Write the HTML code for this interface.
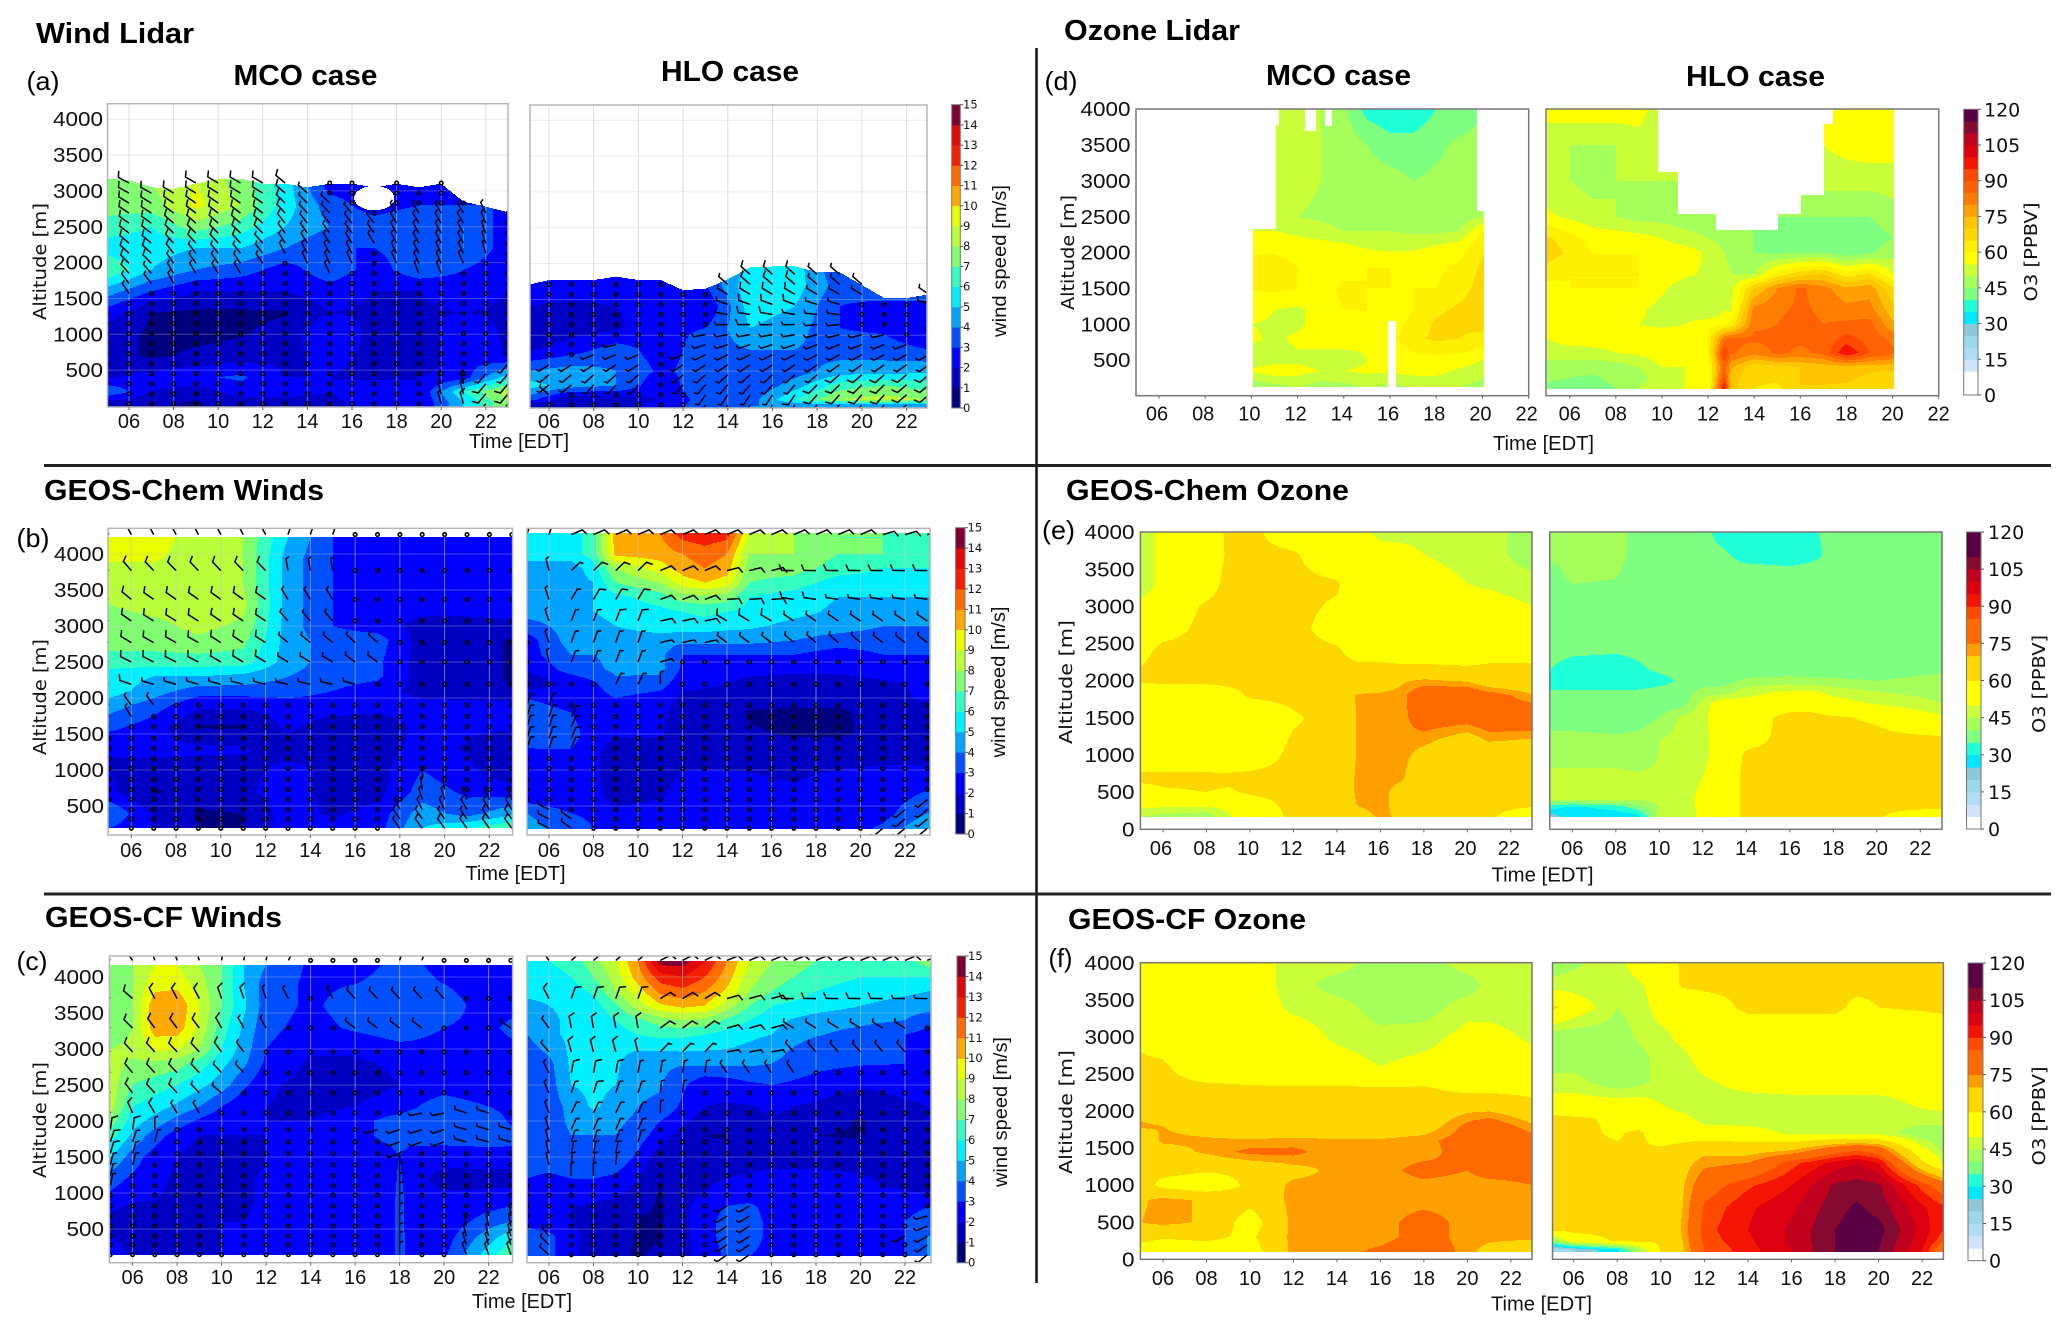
<!DOCTYPE html>
<html lang="en">
<head>
<meta charset="utf-8">
<title>Wind and ozone lidar versus model curtains</title>
<style>
html,body{margin:0;padding:0;background:#fff;}
svg{display:block;}
.title{font:bold 29px "Liberation Sans",sans-serif;fill:#000;}
.letter{font:26px "Liberation Sans",sans-serif;fill:#000;}
.tick{font:20px "Liberation Sans",sans-serif;fill:#111;}
.axis{font:20px "Liberation Sans",sans-serif;fill:#111;}
.alt{font:18px "DejaVu Sans",sans-serif;fill:#111;}
.ws{font:19px "Liberation Sans",sans-serif;fill:#111;}
.cbw{font:11.5px "DejaVu Sans",sans-serif;fill:#111;}
.cbo{font:19px "DejaVu Sans",sans-serif;fill:#111;}
</style>
</head>
<body>
<svg id="fig" xmlns="http://www.w3.org/2000/svg" width="2067" height="1332" viewBox="0 0 2067 1332">
<rect x="0" y="0" width="2067" height="1332" fill="#fff"/>
<g id="plots"></g>
<line x1="1036.5" y1="48" x2="1036.5" y2="1283" stroke="#111" stroke-width="2.5"/>
<line x1="44" y1="465.5" x2="2051" y2="465.5" stroke="#222" stroke-width="3"/>
<line x1="44" y1="894" x2="2051" y2="894" stroke="#222" stroke-width="3"/>
<text class="title" x="36" y="43" textLength="158" lengthAdjust="spacingAndGlyphs">Wind Lidar</text>
<text class="title" x="1064" y="40" textLength="176" lengthAdjust="spacingAndGlyphs">Ozone Lidar</text>
<text class="title" x="44" y="500" textLength="280" lengthAdjust="spacingAndGlyphs">GEOS-Chem Winds</text>
<text class="title" x="1066" y="500" textLength="283" lengthAdjust="spacingAndGlyphs">GEOS-Chem Ozone</text>
<text class="title" x="45" y="927" textLength="237" lengthAdjust="spacingAndGlyphs">GEOS-CF Winds</text>
<text class="title" x="1068" y="929" textLength="238" lengthAdjust="spacingAndGlyphs">GEOS-CF Ozone</text>
<text class="title" x="233.5" y="85" textLength="144" lengthAdjust="spacingAndGlyphs">MCO case</text>
<text class="title" x="661" y="81" textLength="138" lengthAdjust="spacingAndGlyphs">HLO case</text>
<text class="title" x="1266" y="85" textLength="145" lengthAdjust="spacingAndGlyphs">MCO case</text>
<text class="title" x="1686" y="86" textLength="139" lengthAdjust="spacingAndGlyphs">HLO case</text>
<text class="letter" x="26.5" y="90" textLength="33" lengthAdjust="spacingAndGlyphs">(a)</text>
<text class="letter" x="16.5" y="547" textLength="33" lengthAdjust="spacingAndGlyphs">(b)</text>
<text class="letter" x="16.5" y="970" textLength="31" lengthAdjust="spacingAndGlyphs">(c)</text>
<text class="letter" x="1044.5" y="90" textLength="33" lengthAdjust="spacingAndGlyphs">(d)</text>
<text class="letter" x="1042" y="539" textLength="33" lengthAdjust="spacingAndGlyphs">(e)</text>
<text class="letter" x="1048.5" y="967" textLength="24" lengthAdjust="spacingAndGlyphs">(f)</text>
<text class="axis" x="469" y="448" textLength="100" lengthAdjust="spacingAndGlyphs">Time [EDT]</text>
<text class="axis" x="465.5" y="880" textLength="100" lengthAdjust="spacingAndGlyphs">Time [EDT]</text>
<text class="axis" x="472" y="1308" textLength="100" lengthAdjust="spacingAndGlyphs">Time [EDT]</text>
<text class="axis" x="1493" y="450" textLength="101" lengthAdjust="spacingAndGlyphs">Time [EDT]</text>
<text class="axis" x="1491.5" y="881.5" textLength="102" lengthAdjust="spacingAndGlyphs">Time [EDT]</text>
<text class="axis" x="1491" y="1310.5" textLength="101" lengthAdjust="spacingAndGlyphs">Time [EDT]</text>
<text class="alt" text-anchor="middle" transform="translate(46 261.5) rotate(-90)" textLength="117" lengthAdjust="spacingAndGlyphs">Altitude [m]</text>
<text class="alt" text-anchor="middle" transform="translate(46 697) rotate(-90)" textLength="116" lengthAdjust="spacingAndGlyphs">Altitude [m]</text>
<text class="alt" text-anchor="middle" transform="translate(46 1120) rotate(-90)" textLength="116" lengthAdjust="spacingAndGlyphs">Altitude [m]</text>
<text class="alt" text-anchor="middle" transform="translate(1074 252.5) rotate(-90)" textLength="115" lengthAdjust="spacingAndGlyphs">Altitude [m]</text>
<text class="alt" text-anchor="middle" transform="translate(1072 682) rotate(-90)" textLength="124" lengthAdjust="spacingAndGlyphs">Altitude [m]</text>
<text class="alt" text-anchor="middle" transform="translate(1072 1112) rotate(-90)" textLength="124" lengthAdjust="spacingAndGlyphs">Altitude [m]</text>
<text class="ws" text-anchor="middle" transform="translate(1006 261) rotate(-90)" textLength="152" lengthAdjust="spacingAndGlyphs">wind speed [m/s]</text>
<text class="ws" text-anchor="middle" transform="translate(1005 682) rotate(-90)" textLength="151" lengthAdjust="spacingAndGlyphs">wind speed [m/s]</text>
<text class="ws" text-anchor="middle" transform="translate(1007 1112) rotate(-90)" textLength="150" lengthAdjust="spacingAndGlyphs">wind speed [m/s]</text>
<text class="alt" text-anchor="middle" transform="translate(2037 252) rotate(-90)" textLength="99" lengthAdjust="spacingAndGlyphs">O3 [PPBV]</text>
<text class="alt" text-anchor="middle" transform="translate(2045 684) rotate(-90)" textLength="98" lengthAdjust="spacingAndGlyphs">O3 [PPBV]</text>
<text class="alt" text-anchor="middle" transform="translate(2045 1116) rotate(-90)" textLength="99" lengthAdjust="spacingAndGlyphs">O3 [PPBV]</text>
</svg>
<script>
/* ---------- shared tick labels and colour scales ---------- */
const hourTicks = [6,8,10,12,14,16,18,20,22];
const altTicks = [500,1000,1500,2000,2500,3000,3500,4000];
const altTicksZero = [0,500,1000,1500,2000,2500,3000,3500,4000];
const windLevels = [0,1,2,3,4,5,6,7,8,9,10,11,12,13,14,15];
const windColors = ['#00007f','#0000c4','#0000ff','#0050ff','#00a4ff','#00f0ff','#30ffc0','#7fff70','#b8ff3a','#e8ff00','#ffa800','#ff6a00','#f42000','#e00808','#7f0030'];
const windCbTicks = [0,1,2,3,4,5,6,7,8,9,10,11,12,13,14,15];
const ozoneLevels = [0,10,15,20,25,30,35,40,45,50,55,60,65,70,75,80,85,90,95,100,105,110,115,120];
const ozoneColors = ['#ffffff','#cfe3fb','#b0dcf5','#9bd8ea','#8cc8d8','#00e8ff','#1fffd8','#7fff7f','#a5ff5a','#c8ff38','#ffff00','#ffef00','#ffd700','#ffc400','#ff9f00','#ff7d00','#ff6200','#ff4a00','#f51400','#dd0010','#c0001c','#860a30','#5c0044'];
const modelLevels = [0,5,10,15,20,25,30,35,40,45,50,55,60,65,70,75,80,85,90,95,100,105,110,120];
const modelColors = ['#ffffff','#cfe3fb','#b0dcf5','#9bd8ea','#8cc8d8','#00e8ff','#1fffd8','#7fff7f','#a5ff5a','#c8ff38','#ffff00','#ffff00','#ffd700','#ffd700','#ff9f00','#ff6a00','#ff6a00','#ff4a00','#f51400','#dd0010','#c0001c','#860a30','#5c0044'];
const ozoneCbTicks = [0,15,30,45,60,75,90,105,120];

/* ---------- (a) wind lidar ---------- */
const topHours = [5,6,7,8,9,10,11,12,13,14,15,16,17,18,19,20,21,22,23];
const hoursA1 = [5,7,9,11,13,15,17,19,21,23];
const altsA1 = [3100,2800,2500,2200,1900,1600,1300,1000,700,400,200,50];
const speedA1 = [
[7.5,8,9,7.5,5.5,2.5,2.5,2.5,2.5,3],
[7.5,7.5,9.3,8,5.5,3.5,2.5,3,3,3],
[6.5,6,7.5,6.5,5,4,3.5,4,4,2.5],
[5.5,5.5,5,5,4,3,3,3.5,4,2.5],
[7,5,4,3.5,2.5,3.7,2.5,3.7,3,2.2],
[4.5,3,2,2,2,2.5,2,2,2.5,2],
[2.5,1,0.8,0.8,0.9,2,1.8,1.8,2,1.8],
[1.5,0.8,0.7,0.9,1.4,3,1.6,1.2,3,1.7],
[1.5,0.8,1.2,1.5,1.8,2.2,1.8,1,2.8,1.9],
[1.8,2.5,2.8,3.2,2,2,1.8,2,2.5,5.5],
[4,2,1.5,2.5,2.5,2,3,2,6,8.5],
[1.5,1.2,0.9,1.5,1.5,1.7,2.5,2,5,8]];
const topA1 = [3170,3150,3050,3030,3100,3170,3170,3100,3100,3050,3100,3100,3050,3100,3050,3100,2850,2780,2700];
const holesA1 = [[17,2900,0.9,170]];
const hoursA2 = [5,7,9,11,13,15,17,19,21,23];
const altsA2 = [2000,1700,1400,1100,800,500,300,100,20];
const speedA2 = [
[3,2.8,2.6,2.5,3,5,5.5,3,4,3],
[2.5,2.5,2.5,3,3,5.8,5.5,3.5,4.3,3],
[2,1.8,2,2.3,2,5.5,5,3,2.5,3],
[1,1.5,1.8,2.8,3,5,4.5,3,2.8,1.8],
[1.8,2.5,3.5,2.5,3.5,4,4,3.5,3.5,3],
[4,4.5,4,2.8,3.5,3.3,3.5,4.5,4.5,4.8],
[5.5,4.5,4,2.2,4,3,4.5,6.5,7,6.5],
[3.5,1,1.5,2,3.5,3.5,6,8,8.5,8],
[1,1,1.5,2.5,3.5,4,4,4,4,4]];
const topA2 = [1700,1770,1770,1770,1820,1770,1770,1630,1650,1780,1950,1960,1960,1880,1880,1700,1520,1520,1570];

/* ---------- (b) GEOS-Chem winds ---------- */
const hoursB1 = [5,7,9,11,13,15,17,19,21,23];
const altsB1 = [4230,3930,3600,3300,3000,2800,2500,2300,2100,1900,1600,1300,1000,700,400,190];
const speedB1 = [
[9.5,9.5,8.5,8,5,3,2.5,2.5,2.5,2.5],
[9.1,9.1,8.5,8,4.5,3,2.5,2.5,2.5,2.5],
[8.3,8.4,8.5,8,4.5,3,2.5,2.5,2.5,2.5],
[8,8.4,8.5,8.3,4.5,3,2.5,2.5,2.5,2.5],
[7.5,7.7,8.3,7.8,4.5,3,2.5,1.6,1.6,1.8],
[7.5,7.5,7.8,7.3,4.5,3.5,3.5,1.5,1.4,0.9],
[6.5,6.5,6.5,6.5,4.5,3.5,3.2,1.5,1.4,0.9],
[5.5,5,5,4.7,4,3.5,3.2,1.5,1.4,0.9],
[5.5,4.5,3.5,3.5,3.5,3,2.5,1.6,1.5,1],
[4.5,3.5,2.2,2.2,2.5,2.5,2.3,2.3,2.3,2.3],
[3.3,2.5,0.9,0.9,2.2,1.5,1.5,2.2,2.2,2.2],
[2,2.3,2.2,2.1,1.5,1.6,1.6,2.3,1.9,1],
[2,1.6,1.6,1.7,2.3,1.8,1.6,3,2.3,1.1],
[2.2,0.9,1.3,1.8,2.5,1.6,1.6,3.5,2.8,2.5],
[4,1.8,0.9,1,2.5,1.8,2.4,4.5,3.5,4.7],
[3,2,1,1,2.5,2.5,2.6,5,6,7]];
const hoursB2 = [5,7,8,9,11,12,13,14,15,17,19,21,23];
const altsB2 = [4290,4000,3800,3600,3400,3200,3000,2800,2600,2400,2200,2000,1800,1500,1200,900,600,400,180];
const speedB2 = [
[5.5,5.5,6.5,10.5,11,12.5,12.8,12.5,9,8,7,7,7],
[5.5,5.5,6.5,10.3,10.5,11,11.5,11,8,8,7,7,6.5],
[4.5,4.5,5.5,8,9.5,10.5,11,10.5,7.5,7.5,6.5,6,6],
[4.5,4.5,5,7,8,9.5,10,9.5,7,6.5,5.5,5.5,5.5],
[4.5,4.5,5,5.7,6.5,7.5,7.7,7.5,6,5.5,5,5,5],
[4.5,4.5,5,5.5,5.7,6,6.3,6,5.7,5.3,4.8,4.7,4.5],
[3.5,4.5,4.5,5,5.5,5.5,5.5,5.3,5.2,4.7,4.5,4,4],
[2.5,4.5,4.5,4.5,4.5,4.3,4.3,4.3,4.3,4,3.5,3.5,3],
[2.5,4,4,4.2,4.3,3,3,3,3,3,2.5,3,3],
[2,3.5,3.8,4.2,4.3,2.8,2.7,2.7,2.5,2.3,2.3,2.6,2.8],
[1.3,2.2,2.8,3.8,3.5,2.3,2.2,2,1.5,1.4,1.4,1.8,2.2],
[3,2.5,2.5,3,2.5,1.8,1.6,1.6,1.4,1.4,1.4,1.6,2.2],
[3.5,3,2.3,2,2.2,1.5,1.6,1.5,0.9,0.8,0.8,1.4,1.5],
[4,3.5,2.3,2.1,2.1,1.5,1.6,1.5,1.1,0.9,0.9,1.2,1.5],
[2.5,2.8,2.2,1.5,1.5,1.5,1.6,1.6,1.6,1.6,1.6,1.6,1.6],
[2.5,2.2,2.2,1.5,1.5,2.2,2.2,2.2,2.1,1.9,2.2,2.5,2.5],
[2.6,2.2,2.3,1.7,2,2.3,2.3,2.3,2.3,2.3,2.3,2.5,3.3],
[4,3,2.8,2.3,2.3,2.4,2.4,2.4,2.4,2.4,2.4,2.6,4],
[4.5,3.5,3,2,2.3,2.4,2.4,2.4,2.4,2.4,2.4,3.2,5]];

/* ---------- (c) GEOS-CF winds ---------- */
const hoursC1 = [5,6,7,8,9,10,11,12,14,16,17.5,18,18.5,20,22,23];
const altsC1 = [4170,3900,3600,3300,3000,2800,2500,2200,2000,1800,1500,1200,900,600,400,143];
const speedC1 = [
[7.5,8,9,9,8,7,5,4,2.8,2.6,3.1,3.3,3.2,2.7,2.6,2.6],
[7.5,8,9.6,9.7,8.5,7,5,3.5,2.8,3,3.3,3.4,3.3,3,2.5,2.5],
[7,8,10.7,10.9,9,7,5.2,3.5,2.8,3.5,3.6,3.7,3.6,3.5,2.5,2.5],
[7,8,10.6,10.6,8.8,6.5,4.8,3.3,2.6,3.2,3.5,3.6,3.5,3,2.7,3.3],
[8,8.3,9.2,9.1,8,6,4.5,3,2.2,2.2,2.6,2.7,2.7,2.6,2.6,2.7],
[8.5,7.8,7.8,7.5,6.5,5.3,4.2,2.8,1.8,1.8,2.1,2.2,2.3,2.6,2,2],
[8.5,7,6.5,6,5.3,4.5,3.2,2.2,1.6,1.6,1.9,2,2.1,2.4,2,2],
[8.5,6,5.5,4.8,4,3,2.2,2,1.7,2,2.4,2.5,2.8,3.7,3,2.6],
[7.5,5.5,4.6,3.6,2.8,2.2,2,2,2,2.6,3.3,3.5,3.6,3.8,3.8,2.8],
[6.5,4.8,3.5,2.5,2,2,2,2,2.2,2.6,3.3,3.5,3.5,3.6,3.6,3.5],
[5,3.5,2.5,2,1.6,1.2,1.2,2,2.5,2.5,2.6,3,2.5,2.3,2.5,2.5],
[3.5,2.8,2.3,1.8,1.5,1.5,1.8,2.2,3,2.5,2.4,3.2,2.3,1.7,1.6,1.6],
[2.6,2.1,2,1.8,2,1.9,1.8,2.2,2.8,2.4,2.4,3.4,2.4,2.2,2.4,2.6],
[1.6,0.9,1.6,1.7,2,2,2,2.2,2.7,2.4,2.4,3.4,2.4,2.3,3.5,4],
[2,1.5,1.7,1.8,1.9,2,2,2.2,2.6,2.4,2.4,3.5,2.4,2.5,4.5,5.5],
[2.6,1.8,1.8,1.8,1.9,2,2,2.2,2.6,2.5,2.4,3.4,2.5,2.8,5.5,7]];
const hoursC2 = [5,6,7,8,9,10,11,12,13,14,15,16,18,20,22,23];
const altsC2 = [4218,4000,3800,3600,3400,3200,3000,2800,2500,2200,2000,1800,1500,1200,1000,800,600,400,120];
const speedC2 = [
[5.5,6,6.5,7.5,9,11,14.5,14.5,13,11,9,8,7,6.5,6.5,7.5],
[5.5,5.5,6,7,8.5,10.5,12.5,13,12,10.5,8.5,7.5,6.5,6,6,6],
[5.2,5.2,5.5,6.2,8,9.5,11.3,11.7,11,9.8,8,7,6,5.5,5.2,5],
[4.8,5,5.2,5.5,6.8,8.5,9.8,10.3,10,8.5,7,6,5.5,5,4.6,4.5],
[4.5,4.8,5.2,5.3,6,6.8,7.5,8,7.7,6.8,6,5.3,4.5,4.3,4,3.3],
[4,4.8,5.2,5.3,5.5,6,6.3,6.2,6,5.5,5.2,5,4.1,3.6,3,2.7],
[3.5,4.3,5.2,5.3,5.3,5.1,5.1,5.2,5.1,5,4.8,4.5,3.3,3.5,3,2.6],
[3,3.7,5.2,5.3,5.2,4.2,4.2,4.1,4.2,4.2,4.2,4,3.3,3.1,3,2.8],
[3,3.5,5,5.3,5,4.2,4.1,3.2,2.2,2.4,2.8,3,2.6,2.1,2.5,2.5],
[3.2,3.5,4.3,5.2,4.5,4,3.8,2.8,2,1.9,1.9,2.2,1.8,1.2,1.7,2],
[3.5,3.5,4.2,4.3,4.2,3.8,3,2.3,1.5,1.4,1.7,1.9,1.5,0.9,1.7,2],
[3.5,3.5,4,4,4,3.5,2.5,1.5,1,0.9,1.5,1.6,1,0.9,1.8,1.8],
[3.5,3.5,3.8,3.9,3.7,2.8,1.3,1,1.2,1.4,1.5,1.6,1.6,1.4,1.2,1.1],
[3,2.8,3,3,2.8,2,1,1.8,1.9,2,2.2,2.3,2.3,2.2,1.5,1.4],
[2.2,2.5,2.3,2.2,2.2,1.6,0.9,1.8,2,2.2,2.3,2.4,2.3,2.3,2.1,2],
[2.3,2.2,2,1.9,1.7,1.2,0.9,1.8,2.4,3.1,3.3,2.5,2.3,2.3,2.7,3],
[2.7,2.2,2,1.7,1.6,0.9,0.9,1.8,2.5,3.5,3.6,2.6,2.4,2.4,3,3.5],
[3.5,3.3,2.2,1.7,1.4,0.9,0.9,1.7,2.5,3.5,3.6,2.6,2.4,2.5,3,4],
[3,3.3,2.2,1.6,1.2,0.9,1.2,1.7,2.3,3.2,3,2.6,2.4,2.4,2.9,4]];

/* ---------- wind barb levels and directions (degrees clockwise from up) ---------- */
const barbHours = [5,6,7,8,9,10,11,12,13,14,15,16,17,18,19,20,21,22,23];
const barbAltsA = [30,170,310,450,590,730,870,1010,1150,1290,1430,1570,1710,1850,1990,2130,2270,2410,2550,2690,2830,2970,3110,3250];
const barbAltsB = [190,320,450,590,730,870,1020,1160,1300,1440,1600,1740,1900,2190,2500,2770,3070,3370,3770,4270];
const barbAltsC = [143,280,400,540,680,820,970,1100,1240,1390,1550,1710,1880,2110,2390,2670,2960,3290,3700,4230];
const dirHoursA1 = [5,10,15,20,23];
const dirAltsA1 = [3000,2000,1000,200];
const dirA1 = [[-62,-60,-50,-35,-30],[-45,-35,-25,-25,-15],[-19,-10,-130,-10,-10],[-28,-28,-10,-16,-140]];
const dirHoursA2 = [5,10,15,20,23];
const dirAltsA2 = [1700,1100,500,100];
const dirA2 = [[36,28,-49,-49,-43],[-85,-85,-95,-100,-100],[-130,-130,-130,-130,-130],[-50,-150,-150,-140,-130]];
const dirHoursB1 = [5,8,11,14,18,23];
const dirAltsB1 = [4200,3500,2500,2100,1900,1000,300];
const dirB1 = [[-28,-28,-28,19,19,10],[-49,-54,-54,-28,-28,-19],[-63,-63,-59,-59,-54,-49],[-74,-77,-80,-82,-80,-67],[-36,-36,-82,-89,-90,-90],[-10,0,0,10,10,-10],[-49,-10,0,0,-36,-36]];
const dirHoursB2 = [5,9,12,15,18,23];
const dirAltsB2 = [4270,3700,3300,3000,2600,2000,1000,300];
const dirB2 = [[19,67,67,67,67,74],[-19,43,67,77,-89,-89],[-19,28,71,88,-80,-80],[-19,19,80,-59,-49,-49],[-19,19,74,-49,-49,-54],[19,28,0,0,-63,-67],[19,19,0,0,-130,-130],[-63,-54,0,0,-130,-130]];
const dirHoursC1 = [5,8,11,14,18,23];
const dirAltsC1 = [4200,3700,3000,2200,1800,1000,200];
const dirC1 = [[-36,-19,10,28,19,0],[-49,-28,-19,-28,-43,-49],[-43,-43,-36,-36,-59,-59],[-36,-43,-54,-49,-100,-70],[19,10,0,-130,-110,-75],[10,43,0,0,0,0],[-54,0,0,0,0,-19]];
const dirHoursC2 = [5,9,12,15,18,23];
const dirAltsC2 = [4200,3700,3300,3000,2700,2000,1000,200];
const dirC2 = [[-36,49,63,67,67,67],[-28,19,59,74,-89,-89],[-36,-10,54,74,-59,-59],[-43,-19,49,80,-43,-43],[-28,10,10,-36,-36,-28],[-19,28,0,0,0,0],[-10,-10,0,-120,-100,-90],[-49,0,0,-125,-70,-130]];

/* ---------- (d) ozone lidar ---------- */
const hoursD1 = [10,11,12,13,14,15,16,17,18,19,20];
const altsD1 = [4000,3500,3000,2500,2300,2100,1800,1500,1200,1000,800,500,350,120];
const ozoneD1 = [
[55,55,52,50,46,38,36,36,40,42,45],
[55,55,54,50,48,45,42,42,44,46,46],
[52,53,52,50,48,48,47,45,46,46,47],
[52,52,50,49,48,49,47,46,46,47,50],
[55,55,54,52,50,50,50,49,49,50,60],
[58,58,57,57,56,54,53,54,55,57,64],
[62,63,60,58,58,60,60,58,59,61,66],
[60,61,60,58,61,60,60,60,60,63,67],
[58,55,54,57,60,60,58,60,64,66,68],
[55,54,54,57,60,58,58,61,66,66,67],
[56,54,56,58,58,56,58,64,66,65,63],
[52,53,54,52,52,55,55,58,58,58,55],
[56,58,57,55,55,56,56,57,57,54,52],
[45,48,50,47,48,50,48,50,50,50,48]];
const coverageD1 = [[10.05,11.05,120,2330],[11.05,11.2,120,3780],[11.2,12.3,120,4000],[12.3,12.8,120,3700],[12.8,13.2,120,4000],[13.2,13.5,120,3770],[13.5,15.9,120,4000],[15.9,16.25,1050,4000],[16.25,19.75,120,4000],[19.75,20.05,120,2580]];
const hoursD2 = [5,6,7,8,9,10,11,12,12.7,13,14,15,16,17,18,19,20];
const altsD2 = [4000,3500,3000,2500,2200,2000,1700,1500,1200,1000,800,600,400,250,120];
const ozoneD2 = [
[58,58,58,58,58,50,50,50,50,50,50,50,50,56,58,60,60],
[50,50,50,50,52,50,50,50,50,50,50,50,50,55,57,58,58],
[52,50,48,50,50,50,50,50,50,50,50,50,50,52,52,52,52],
[56,54,52,50,48,48,47,47,47,45,45,45,45,45,45,45,48],
[66,62,58,58,57,55,52,50,48,47,45,42,42,40,42,42,45],
[68,64,60,60,60,58,58,54,50,47,45,44,45,45,42,44,48],
[62,60,60,60,60,58,56,54,53,50,50,62,68,70,62,66,55],
[58,60,60,60,60,56,52,52,54,53,70,80,86,82,76,78,66],
[58,58,58,58,56,53,52,50,55,54,82,84,86,84,82,82,72],
[58,58,58,57,55,54,55,58,58,62,84,85,87,85,86,87,76],
[55,58,58,58,58,58,58,60,84,86,86,86,86,86,92,88,84],
[52,52,53,55,56,58,58,60,95,86,82,86,84,86,100,90,86],
[48,48,47,47,50,55,55,57,88,76,66,68,70,72,72,72,72],
[46,45,44,47,48,53,55,56,92,72,66,66,70,75,72,68,66],
[44,42,42,45,50,53,55,56,100,72,65,64,70,68,68,66,66]];
const coverageD2 = [[5,9.85,100,4000],[9.85,10.7,100,3130],[10.7,12.35,100,2540],[12.35,15.05,100,2320],[15.05,16.05,100,2540],[16.05,17.03,100,2800],[17.03,17.4,100,3800],[17.4,20.05,100,4000]];

/* ---------- (e) GEOS-Chem ozone ---------- */
const hoursE1 = [5,6,8,9,10,12,14,15,16,17,18,20,21,23];
const altsE1 = [4000,3700,3300,3000,2700,2400,2200,2000,1800,1500,1200,1000,700,500,350,170];
const ozoneE1 = [
[45,53,53,62,62,55,53,53,48,48,48,48,48,41],
[45,53,55,61,62,61,54,53,53,52,50,48,47,42],
[45,53,57,62,62,62,61,54,53,53,53,50,49,47],
[53,55,61,62,62,62,59,55,53,53,53,53,53,50],
[55,57,62,62,62,62,57,55,53,53,53,53,53,53],
[58,62,62,62,62,62,61,57,54,53,53,53,55,55],
[60,62,62,62,62,62,62,61,62,61,61,60,61,61],
[61,62,62,62,62,62,62,62,62,69,71,69,63,61],
[53,53,54,57,61,62,65,71,72,73,83,83,79,71],
[53,53,53,53,53,59,63,71,72,73,80,79,82,83],
[53,53,53,53,53,61,62,71,72,73,72,65,71,69],
[53,53,53,52,55,62,62,71,72,72,67,62,62,62],
[62,62,62,62,62,62,62,72,72,71,62,62,62,62],
[57,59,60,59,61,62,62,72,72,67,62,62,62,62],
[53,53,53,53,57,62,62,71,72,67,62,62,62,62],
[45,43,41,49,53,62,62,67,71,69,62,62,61,55]];
const hoursE2 = [5,6,8,9,10,11,12,13,14,16,17,18,20,23];
const altsE2 = [4000,3700,3500,3000,2500,2150,2000,1850,1700,1500,1200,1000,700,400,300,170];
const ozoneE2 = [
[42,42,42,38,37,37,37,32,31,31,34,37,37,37],
[42,42,42,38,37,37,37,36,32,31,33,37,37,37],
[38,42,41,37,37,37,37,37,37,36,37,37,37,37],
[37,37,37,37,37,37,37,37,37,37,37,37,37,37],
[37,37,37,37,37,37,37,37,37,37,37,37,37,37],
[35,33,32,34,36,37,37,37,37,37,37,37,37,39],
[31,30,31,31,33,36,37,38,41,42,41,41,40,42],
[36,36,36,36,37,37,42,42,48,51,51,48,45,43],
[37,37,37,37,37,37,47,55,52,55,55,53,49,45],
[37,37,37,37,40,46,48,57,55,63,63,61,59,51],
[42,42,41,42,45,47,48,55,58,62,62,62,62,62],
[42,42,42,42,45,47,48,55,61,62,62,62,62,62],
[47,47,47,46,46,47,50,55,62,62,62,62,62,62],
[45,46,47,45,47,47,52,55,62,62,62,62,62,62],
[32,29,32,38,45,46,52,55,62,62,62,62,62,62],
[22,28,26,27,45,45,52,55,62,62,62,61,61,51]];

/* ---------- (f) GEOS-CF ozone ---------- */
const hoursF1 = [5,6,8,10,12,14,16,18,20,21,23];
const altsF1 = [4000,3700,3400,3000,2600,2300,2050,1800,1600,1450,1200,1000,800,500,300,100];
const ozoneF1 = [
[53,53,53,53,48,48,42,42,48,48,48],
[53,53,53,53,48,42,41,41,42,47,48],
[55,52,53,53,49,48,42,42,48,48,48],
[59,57,53,53,53,49,47,48,52,52,49],
[61,61,55,55,53,53,50,52,53,53,53],
[61,62,62,61,61,61,61,61,58,58,58],
[67,62,62,62,62,62,62,62,67,67,62],
[71,70,67,62,62,62,63,65,77,81,71],
[65,71,71,71,72,71,71,73,79,83,80],
[61,67,71,77,77,71,72,72,79,83,82],
[61,63,61,62,67,72,72,78,75,79,79],
[65,57,53,62,72,72,72,73,72,72,75],
[69,72,69,63,72,72,72,72,72,72,72],
[70,72,69,55,72,72,72,79,72,72,72],
[63,61,62,58,72,72,72,79,72,72,72],
[55,53,55,55,72,72,77,83,72,67,61]];
const hoursF2 = [5,6,8,9,10,11,12,14,16,18,19,20,22,23];
const altsF2 = [4000,3700,3400,3000,2700,2400,2100,1900,1700,1500,1300,1000,700,400,250,130];
const ozoneF2 = [
[42,44,48,54,56,61,62,62,62,62,62,62,62,62],
[47,47,46,49,54,61,62,62,62,62,62,62,62,62],
[62,55,45,47,53,53,55,62,62,62,58,60,61,62],
[41,41,42,46,48,52,53,53,53,53,53,53,53,53],
[42,42,42,43,47,48,53,53,53,53,53,53,53,53],
[47,47,41,43,47,47,49,53,53,53,53,53,53,53],
[53,53,53,53,50,47,47,47,48,48,48,48,51,52],
[62,61,59,53,53,52,48,47,47,47,47,47,48,48],
[62,62,59,62,53,55,53,53,49,48,48,48,41,41],
[62,61,61,61,61,63,67,65,67,78,82,78,51,43],
[62,62,62,62,61,67,73,75,88,97,100,95,62,49],
[62,62,62,62,61,69,81,89,95,106,107,106,88,80],
[62,62,62,62,61,70,86,94,99,108,111,108,96,91],
[62,62,62,62,61,71,88,95,101,110,113,112,98,90],
[40,55,61,62,61,70,87,94,101,110,113,111,97,86],
[15,20,29,43,61,69,85,93,100,110,113,110,95,78]];

/* ---------- rendering ---------- */
const NS = 'http://www.w3.org/2000/svg';
const plots = document.getElementById('plots');
function make(tag, parent){ const e = document.createElementNS(NS, tag); parent.appendChild(e); return e; }
function locate(arr, v, desc){
  const n = arr.length;
  if(n===1) return [0,0,0];
  if(desc){
    if(v>=arr[0]) return [0,0,0];
    if(v<=arr[n-1]) return [n-1,n-1,0];
    for(let i=0;i<n-1;i++){ if(v<=arr[i]&&v>=arr[i+1]) return [i,i+1,(arr[i]-v)/(arr[i]-arr[i+1])]; }
  } else {
    if(v<=arr[0]) return [0,0,0];
    if(v>=arr[n-1]) return [n-1,n-1,0];
    for(let i=0;i<n-1;i++){ if(v>=arr[i]&&v<=arr[i+1]) return [i,i+1,(v-arr[i])/(arr[i+1]-arr[i])]; }
  }
  return [0,0,0];
}
function sample(p,h,a){
  const c = locate(p.hours,h,false), r = locate(p.alts,a,true), g = p.values;
  const top = g[r[0]][c[0]]*(1-c[2]) + g[r[0]][c[1]]*c[2];
  const bot = g[r[1]][c[0]]*(1-c[2]) + g[r[1]][c[1]]*c[2];
  return top*(1-r[2]) + bot*r[2];
}
function lerp1(xs,ys,x){ const c = locate(xs,x,false); return ys[c[0]]*(1-c[2]) + ys[c[1]]*c[2]; }
function inside(p,h,a){
  if(p.top && a>lerp1(topHours,p.top,h)) return false;
  if(p.holes){ for(const o of p.holes){ const dx=(h-o[0])/o[2], dy=(a-o[1])/o[3]; if(dx*dx+dy*dy<1) return false; } }
  if(p.coverage){ let ok=false; for(const s of p.coverage){ if(h>=s[0]&&h<s[1]&&a>=s[2]&&a<=s[3]) ok=true; } if(!ok) return false; }
  if(p.minAlt!==undefined && a<p.minAlt) return false;
  if(p.maxAlt!==undefined && a>p.maxAlt) return false;
  return true;
}
function bandOf(levels,v){ for(let i=0;i<levels.length-1;i++){ if(v<levels[i+1]) return i; } return levels.length-2; }
function addText(parent,cls,x,y,str,anchor,len){
  const t = make('text',parent);
  t.setAttribute('class',cls); t.setAttribute('x',x); t.setAttribute('y',y);
  if(anchor) t.setAttribute('text-anchor',anchor);
  if(len){ t.setAttribute('textLength',len); t.setAttribute('lengthAdjust','spacingAndGlyphs'); }
  t.textContent = str;
  return t;
}
function dirAt(p,h,a){
  const c = locate(p.dirHours,h,false), r = locate(p.dirAlts,a,true);
  const ci = c[2]<0.5?c[0]:c[1], ri = r[2]<0.5?r[0]:r[1];
  const d0 = p.dirs[r[0]][ci], d1 = p.dirs[r[1]][ci];
  return Math.abs(d0-d1)>60 ? p.dirs[ri][ci] : d0*(1-r[2])+d1*r[2];
}
function drawPanel(p){
  const xs = h => p.x06 + (h-6)*p.hw;
  const ys = a => p.yZero - a*p.k;
  const hOf = x => 6 + (x-p.x06)/p.hw;
  const aOf = y => (p.yZero-y)/p.k;
  const g = make('g',plots);
  
  
  const clipId = 'clip-'+p.name;
  const defs = make('defs',g);
  const cp = make('clipPath',defs); cp.setAttribute('id',clipId);
  const cr = make('rect',cp);
  cr.setAttribute('x',p.x0); cr.setAttribute('y',p.y0); cr.setAttribute('width',p.x1-p.x0); cr.setAttribute('height',p.y1-p.y0);
  const n = p.colors.length, d = new Array(n).fill('');
  const X0=Math.round(p.x0), X1=Math.round(p.x1), Y0=Math.round(p.y0), Y1=Math.round(p.y1);
  for(let y=Y0;y<Y1;y++){
    const a=aOf(y+0.5); let cur=-2, start=X0;
    for(let x=X0;x<=X1;x++){
      let b=-1;
      if(x<X1){ const h=hOf(x+0.5); if(inside(p,h,a)) b=bandOf(p.levels,sample(p,h,a)); } else b=-3;
      if(b!==cur){ if(cur>=0) d[cur]+='M'+start+' '+y+'h'+(x-start)+'v1h'+(start-x)+'z'; cur=b; start=x; }
    }
  }
  for(let i=0;i<n;i++){
    if(!d[i]) continue;
    const path = make('path',g);
    
    
    path.setAttribute('d',d[i]);
    path.setAttribute('fill',p.colors[i]);
    path.setAttribute('shape-rendering','crispEdges');
  }
  if(p.grid){
    for(const t of hourTicks){
      const l = make('line',g);
      
      
      l.setAttribute('x1',xs(t)); l.setAttribute('x2',xs(t)); l.setAttribute('y1',p.y0); l.setAttribute('y2',p.y1);
      l.setAttribute('stroke','#c4c4c4'); l.setAttribute('stroke-opacity','0.6');
    }
    for(const t of altTicks){
      const l = make('line',g);
      
      
      l.setAttribute('x1',p.x0); l.setAttribute('x2',p.x1); l.setAttribute('y1',ys(t)); l.setAttribute('y2',ys(t));
      l.setAttribute('stroke','#c4c4c4'); l.setAttribute('stroke-opacity','0.35');
    }
  }
  if(p.barbAlts){
    for(const alt of p.barbAlts){
      let dStr='';
      for(const h of barbHours){
        if(p.barbInside && !inside(p,h,Math.max(alt-10,0))) continue;
        const s = sample(p,h,alt), px=xs(h), py=ys(alt);
        if(s<3){
          dStr+='M'+(px-1.8).toFixed(1)+' '+py.toFixed(1)+'a1.8 1.8 0 1 0 3.6 0a1.8 1.8 0 1 0 -3.6 0z';
        } else {
          const t=dirAt(p,h,alt)*Math.PI/180, L=12;
          const ex=px+Math.sin(t)*L, ey=py-Math.cos(t)*L;
          const tk=(s>=5?6.5:3.8), u=t+65*Math.PI/180;
          dStr+='M'+px.toFixed(1)+' '+py.toFixed(1)+'L'+ex.toFixed(1)+' '+ey.toFixed(1)+'L'+(ex+Math.sin(u)*tk).toFixed(1)+' '+(ey-Math.cos(u)*tk).toFixed(1);
        }
      }
      if(!dStr) continue;
      const b = make('path',g);
      
      
      b.setAttribute('d',dStr);
      b.setAttribute('fill','none');
      b.setAttribute('stroke','#000');
      b.setAttribute('stroke-width','1.5');
      b.setAttribute('clip-path','url(#'+clipId+')');
    }
  }
  const frame = make('rect',g);
  
  
  frame.setAttribute('x',p.x0); frame.setAttribute('y',p.y0); frame.setAttribute('width',p.x1-p.x0); frame.setAttribute('height',p.y1-p.y0);
  frame.setAttribute('fill','none'); frame.setAttribute('stroke',p.frame); frame.setAttribute('stroke-width','1.5');
  for(const t of hourTicks){
    if(xs(t)>p.x1+1) continue;
    const m = make('line',g);
    
    
    m.setAttribute('x1',xs(t)); m.setAttribute('x2',xs(t)); m.setAttribute('y1',p.y1); m.setAttribute('y2',p.y1+3);
    m.setAttribute('stroke','#666');
  }
  for(const t of hourTicks){
    const lab = addText(g,'tick',xs(t)+p.labelDx,p.xLabelY,String(t).padStart(2,'0'),'middle');
    
    
  }
  if(p.yLabels){
    for(const t of p.yLabels){
      const txt=String(t);
      const lab = addText(g,'tick',p.yLabelX,ys(t)+7,txt,'end',txt.length*12.5);
      
      
    }
  }
}
function drawColorbar(cb){
  const g = make('g',plots);
  
  
  const span = cb.levels[cb.levels.length-1]-cb.levels[0];
  const yv = v => cb.y1 - (v-cb.levels[0])/span*(cb.y1-cb.y0);
  for(let i=0;i<cb.colors.length;i++){
    const r = make('rect',g);
    
    
    r.setAttribute('x',cb.x0); r.setAttribute('width',cb.x1-cb.x0);
    r.setAttribute('y',yv(cb.levels[i+1])); r.setAttribute('height',yv(cb.levels[i])-yv(cb.levels[i+1])+0.4);
    r.setAttribute('fill',cb.colors[i]);
  }
  const f = make('rect',g);
  
  
  f.setAttribute('x',cb.x0); f.setAttribute('y',cb.y0); f.setAttribute('width',cb.x1-cb.x0); f.setAttribute('height',cb.y1-cb.y0);
  f.setAttribute('fill','none'); f.setAttribute('stroke','#777');
  for(const t of cb.ticks){
    const lab = addText(g,cb.cls,cb.labelX,yv(t)+cb.dy,String(t));
    
    
    const m = make('line',g);
    
    
    m.setAttribute('x1',cb.x1); m.setAttribute('x2',cb.x1+3); m.setAttribute('y1',yv(t)); m.setAttribute('y2',yv(t));
    m.setAttribute('stroke','#555');
  }
}
const windScale = {levels:windLevels,colors:windColors,grid:true,frame:'#b5b5b5',labelDx:0};
const ozoneScale = {levels:ozoneLevels,colors:ozoneColors,grid:false,frame:'#777',labelDx:0};
const modelScale = {levels:modelLevels,colors:modelColors,grid:false,frame:'#777',labelDx:0};
const panels = [
 Object.assign({},windScale,{name:'panel-a-mco-wind-lidar',hours:hoursA1,alts:altsA1,values:speedA1,top:topA1,holes:holesA1,dirHours:dirHoursA1,dirAlts:dirAltsA1,dirs:dirA1,barbAlts:barbAltsA,barbInside:true,x0:107.5,x1:508,y0:103.7,y1:407,x06:129,hw:22.3,yZero:406,k:0.0717,xLabelY:428,yLabels:altTicks,yLabelX:103}),
 Object.assign({},windScale,{name:'panel-a-hlo-wind-lidar',hours:hoursA2,alts:altsA2,values:speedA2,top:topA2,dirHours:dirHoursA2,dirAlts:dirAltsA2,dirs:dirA2,barbAlts:barbAltsA,barbInside:true,x0:530,x1:927,y0:105,y1:408,x06:549,hw:22.35,yZero:407,k:0.0717,xLabelY:428}),
 Object.assign({},windScale,{name:'panel-b-mco-geos-chem-wind',hours:hoursB1,alts:altsB1,values:speedB1,minAlt:190,maxAlt:4231,dirHours:dirHoursB1,dirAlts:dirAltsB1,dirs:dirB1,barbAlts:barbAltsB,x0:108,x1:512.6,y0:528.3,y1:835,x06:131.3,hw:22.38,yZero:842,k:0.072,xLabelY:857,yLabels:altTicks,yLabelX:104}),
 Object.assign({},windScale,{name:'panel-b-hlo-geos-chem-wind',hours:hoursB2,alts:altsB2,values:speedB2,minAlt:180,maxAlt:4290,dirHours:dirHoursB2,dirAlts:dirAltsB2,dirs:dirB2,barbAlts:barbAltsB,x0:527,x1:930,y0:528.3,y1:835,x06:549,hw:22.25,yZero:842,k:0.072,xLabelY:857}),
 Object.assign({},windScale,{name:'panel-c-mco-geos-cf-wind',hours:hoursC1,alts:altsC1,values:speedC1,minAlt:143,maxAlt:4171,dirHours:dirHoursC1,dirAlts:dirAltsC1,dirs:dirC1,barbAlts:barbAltsC,x0:109.4,x1:512.6,y0:956,y1:1262.7,x06:132.6,hw:22.25,yZero:1265,k:0.072,xLabelY:1284,yLabels:altTicks,yLabelX:104}),
 Object.assign({},windScale,{name:'panel-c-hlo-geos-cf-wind',hours:hoursC2,alts:altsC2,values:speedC2,minAlt:120,maxAlt:4218,dirHours:dirHoursC2,dirAlts:dirAltsC2,dirs:dirC2,barbAlts:barbAltsC,x0:527,x1:931,y0:956,y1:1262.7,x06:549,hw:22.25,yZero:1265,k:0.072,xLabelY:1284}),
 Object.assign({},ozoneScale,{name:'panel-d-mco-ozone-lidar',hours:hoursD1,alts:altsD1,values:ozoneD1,coverage:coverageD1,x0:1136,x1:1528.7,y0:109,y1:395.7,x06:1159,hw:23.1,yZero:396,k:0.0717,xLabelY:420.5,yLabels:altTicks,yLabelX:1130.5,labelDx:-2}),
 Object.assign({},ozoneScale,{name:'panel-d-hlo-ozone-lidar',hours:hoursD2,alts:altsD2,values:ozoneD2,coverage:coverageD2,x0:1546,x1:1938.7,y0:109,y1:395.7,x06:1569.7,hw:23.06,yZero:396,k:0.0717,xLabelY:420.5}),
 Object.assign({},modelScale,{name:'panel-e-mco-geos-chem-ozone',hours:hoursE1,alts:altsE1,values:ozoneE1,minAlt:170,x0:1140.4,x1:1532,y0:532,y1:829.3,x06:1163,hw:21.74,yZero:829.3,k:0.0743,xLabelY:855,yLabels:altTicksZero,yLabelX:1134.5,labelDx:-2}),
 Object.assign({},modelScale,{name:'panel-e-hlo-geos-chem-ozone',hours:hoursE2,alts:altsE2,values:ozoneE2,minAlt:170,x0:1549.8,x1:1942,y0:532,y1:829.3,x06:1572.3,hw:21.75,yZero:829.3,k:0.0743,xLabelY:855}),
 Object.assign({},modelScale,{name:'panel-f-mco-geos-cf-ozone',hours:hoursF1,alts:altsF1,values:ozoneF1,minAlt:100,x0:1140.4,x1:1532,y0:962.7,y1:1259.3,x06:1163,hw:21.74,yZero:1259.3,k:0.0741,xLabelY:1285,yLabels:altTicksZero,yLabelX:1134.5}),
 Object.assign({},modelScale,{name:'panel-f-hlo-geos-cf-ozone',hours:hoursF2,alts:altsF2,values:ozoneF2,minAlt:100,x0:1552.5,x1:1943.4,y0:962.7,y1:1259.3,x06:1573.7,hw:21.78,yZero:1259.3,k:0.0741,xLabelY:1285})
];
panels.forEach(drawPanel);
const colorbars = [
 {name:'colorbar-a',levels:windLevels,colors:windColors,ticks:windCbTicks,cls:'cbw',x0:951.7,x1:960.3,y0:104.7,y1:408,labelX:963,dy:4},
 {name:'colorbar-b',levels:windLevels,colors:windColors,ticks:windCbTicks,cls:'cbw',x0:955.6,x1:965,y0:527.7,y1:834,labelX:967.5,dy:4},
 {name:'colorbar-c',levels:windLevels,colors:windColors,ticks:windCbTicks,cls:'cbw',x0:957,x1:965.5,y0:956,y1:1262.7,labelX:968,dy:4},
 {name:'colorbar-d',levels:ozoneLevels,colors:ozoneColors,ticks:ozoneCbTicks,cls:'cbo',x0:1963.7,x1:1978,y0:109.3,y1:395,labelX:1984,dy:7},
 {name:'colorbar-e',levels:modelLevels,colors:modelColors,ticks:ozoneCbTicks,cls:'cbo',x0:1966.5,x1:1981,y0:532,y1:829,labelX:1988,dy:7},
 {name:'colorbar-f',levels:modelLevels,colors:modelColors,ticks:ozoneCbTicks,cls:'cbo',x0:1968,x1:1983,y0:963,y1:1260.7,labelX:1989,dy:7}
];
colorbars.forEach(drawColorbar);
</script>
</body>
</html>
